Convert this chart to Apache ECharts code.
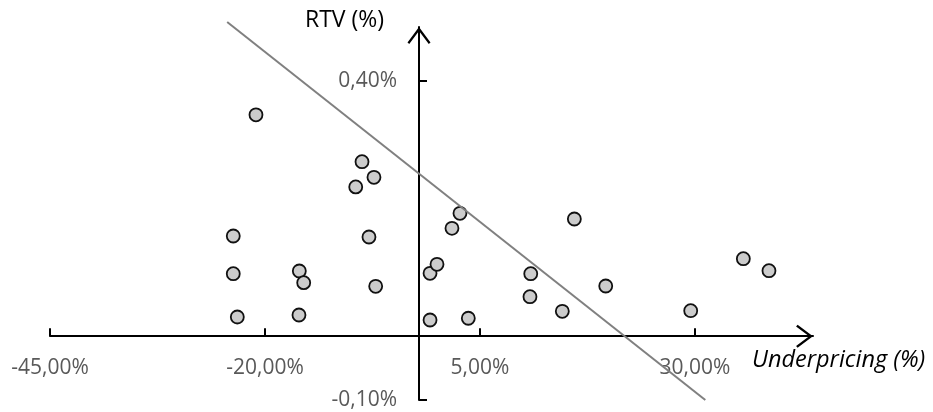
<!DOCTYPE html>
<html><head><meta charset="utf-8">
<script src="https://cdn.jsdelivr.net/npm/echarts@6/dist/echarts.min.js"></script>
<style>html,body{margin:0;padding:0;background:#fff}#c{width:933px;height:412px}</style>
</head><body><div id="c"></div>
<script>
// Underpricing (%) values of each observation
const underpricing = [-21.05, -8.72, -7.33, -9.45, -23.69, -7.91, -23.69, -16.01, -15.5, -7.13,
  -23.22, -16.05, -0.81, 0.0, -0.81, 2.67, 1.74, 15.97, 10.9, 10.81,
  14.57, 19.62, 3.64, 29.5, 35.62, 38.6];
// RTV (%) values of each observation
const rtv = [0.347, 0.2735, 0.249, 0.234, 0.157, 0.1555, 0.098, 0.1022, 0.0839, 0.0782,
  0.0301, 0.0332, 0.0986, 0.1127, 0.0254, 0.1926, 0.1691, 0.1837, 0.098, 0.0619,
  0.039, 0.0787, 0.0281, 0.04, 0.1215, 0.1027];
// linear trend line end points
const trendX = [-24.4, 31.2];
const trendY = [0.4925, -0.1];
// tick labels
const xTicks = [-45, -20, 5, 30];
const yTicks = [-0.1, 0.4];
const xTitle = 'Underpricing (%)';
const yTitle = 'RTV (%)';

const fmt = v => v.toFixed(2).replace('.', ',') + '%';
const FONT = 'Open Sans';
const chevron = 'path://M12,0 L24,16 L22.2,17.6 L12,4 L1.8,17.6 L0,16 Z';

const chart = echarts.init(document.getElementById('c'), null, {renderer: 'canvas'});
chart.setOption({
  animation: false,
  backgroundColor: '#ffffff',
  textStyle: {fontFamily: FONT},
  grid: {left: 50, right: 120, top: 27, bottom: 12, containLabel: false, outerBoundsMode: 'none'},
  xAxis: {
    type: 'value', min: -45, max: 43.72,
    position: 'bottom', offset: -63.8,
    splitLine: {show: false},
    axisLine: {
      show: true, onZero: false,
      lineStyle: {color: '#000', width: 2},
      symbol: ['none', chevron], symbolSize: [23, 17], symbolOffset: [0, -8.5]
    },
    axisTick: {show: true, inside: true, length: 8, lineStyle: {color: '#000', width: 2}, customValues: xTicks},
    axisLabel: {show: true, customValues: xTicks, formatter: fmt, color: '#595959', fontSize: 21, fontFamily: FONT, margin: 21, hideOverlap: false}
  },
  yAxis: {
    type: 'value', min: -0.1, max: 0.4846,
    position: 'left', offset: -369,
    splitLine: {show: false},
    axisLine: {
      show: true, onZero: false,
      lineStyle: {color: '#000', width: 2},
      symbol: ['none', chevron], symbolSize: [23, 17], symbolOffset: [0, -8.5]
    },
    axisTick: {show: true, inside: true, length: 8, lineStyle: {color: '#000', width: 2}, customValues: yTicks},
    axisLabel: {show: true, customValues: yTicks, formatter: fmt, color: '#595959', fontSize: 21, fontFamily: FONT, margin: 22, hideOverlap: false}
  },
  graphic: [
    {type: 'text', left: 305, top: 9, style: {text: yTitle, fill: '#000', font: '23px "Open Sans"'}},
    {type: 'text', left: 752, top: 349, style: {text: xTitle, fill: '#000', font: 'italic 23.5px "Open Sans"'}}
  ],
  series: [
    {
      type: 'scatter', z: 2,
      data: underpricing.map((x, i) => [x, rtv[i]]),
      symbol: 'circle', symbolSize: 13,
      itemStyle: {color: '#cccccc', borderColor: '#111', borderWidth: 1.8, opacity: 1}
    },
    {
      type: 'line', z: 3, clip: false,
      data: trendX.map((x, i) => [x, trendY[i]]),
      showSymbol: false, symbol: 'none',
      lineStyle: {color: '#808080', width: 2}
    }
  ]
});
</script></body></html>
